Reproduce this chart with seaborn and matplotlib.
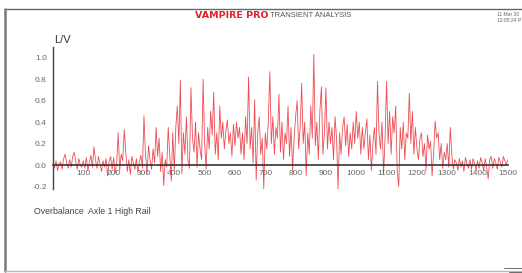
import numpy as np
import pandas as pd
import matplotlib
matplotlib.use("Agg")
import matplotlib.pyplot as plt
from matplotlib.lines import Line2D
import seaborn as sns

# ============================================================================
# DATA (one value every 5 units of distance)
# ============================================================================

step = 5
lv_values = [
    # 0 - 95
    0.02, -0.03, 0.04, -0.05, 0.01, 0.03, -0.04, 0.06, 0.10, 0.02,
    -0.03, 0.05, -0.02, 0.08, 0.12, 0.03, -0.04, 0.06, 0.00, -0.02,
    # 100 - 195
    0.04, -0.03, 0.07, -0.05, 0.02, 0.09, -0.02, 0.17, 0.05, -0.03,
    0.08, 0.01, -0.06, 0.04, -0.02, 0.06, -0.10, 0.03, 0.08, -0.04,
    # 200 - 295
    0.07, -0.08, 0.02, 0.30, -0.05, 0.10, 0.04, 0.33, 0.12, -0.06,
    0.05, -0.09, 0.08, 0.02, -0.04, 0.06, -0.07, 0.03, 0.09, -0.03,
    # 300 - 395
    0.46, 0.10, -0.08, 0.18, 0.05, -0.04, 0.15, 0.02, 0.35, 0.08,
    0.25, -0.06, 0.12, -0.19, 0.05, -0.02, 0.35, 0.10, -0.15, 0.30,
    # 400 - 495
    -0.05, 0.35, 0.55, 0.20, 0.79, -0.08, 0.30, 0.10, 0.45, 0.05,
    -0.03, 0.72, 0.25, 0.12, 0.40, -0.02, 0.30, 0.15, 0.05, 0.80,
    # 500 - 595
    0.20, -0.04, 0.35, 0.15, 0.50, 0.28, 0.68, 0.10, 0.30, 0.05,
    0.55, 0.25, 0.40, 0.15, 0.32, 0.42, 0.20, 0.30, 0.08, 0.38,
    # 600 - 695
    0.18, 0.40, 0.25, 0.35, 0.10, 0.30, 0.05, 0.45, 0.20, 0.82,
    0.15, 0.35, 0.02, 0.61, -0.14, 0.30, 0.45, 0.10, 0.25, -0.22,
    # 700 - 795
    0.30, 0.15, 0.40, 0.87, 0.20, 0.45, 0.10, 0.35, 0.25, 0.66,
    0.12, 0.40, 0.05, 0.30, 0.20, 0.55, 0.08, 0.35, -0.05, 0.25,
    # 800 - 895
    0.45, 0.60, 0.15, 0.35, 0.76, 0.20, 0.40, -0.10, 0.30, 0.10,
    0.55, 0.25, 1.03, 0.18, 0.40, 0.05, 0.50, 0.73, 0.10, 0.30,
    # 900 - 995
    0.72, 0.15, 0.40, 0.20, 0.35, 0.05, 0.45, 0.25, -0.22, 0.30,
    0.10, 0.35, 0.45, 0.18, 0.38, 0.08, 0.30, 0.15, 0.40, 0.20,
    # 1000 - 1095
    0.50, 0.25, 0.40, 0.10, 0.35, 0.15, 0.30, 0.43, 0.05, 0.28,
    -0.05, 0.20, 0.35, 0.10, 0.78, 0.30, 0.15, 0.40, -0.08, 0.25,
    # 1100 - 1195
    0.78, 0.20, 0.50, 0.10, 0.45, 0.30, 0.55, -0.05, -0.20, 0.35,
    0.15, 0.40, 0.05, 0.30, 0.25, 0.67, 0.20, 0.50, 0.10, 0.35,
    # 1200 - 1295
    0.15, 0.05, 0.25, 0.30, 0.08, 0.20, -0.05, 0.28, 0.15, 0.22,
    -0.10, 0.10, 0.41, 0.25, 0.30, 0.05, 0.20, -0.03, 0.12, 0.05,
    # 1300 - 1395
    0.20, -0.02, 0.35, 0.10, -0.04, 0.05, 0.02, -0.05, 0.06, -0.02,
    0.04, -0.06, 0.07, 0.01, -0.03, 0.05, -0.04, 0.06, 0.02, -0.05,
    # 1400 - 1500
    0.04, -0.03, 0.07, 0.02, -0.05, 0.06, -0.02, -0.13, 0.05, 0.08,
    -0.03, 0.06, 0.02, -0.04, 0.07, 0.03, -0.02, 0.08, 0.04, 0.00,
    0.05,
]
distance = [i * step for i in range(len(lv_values))]

x_ticks = [100, 200, 300, 400, 500, 600, 700, 800, 900, 1000, 1100, 1200, 1300, 1400, 1500]
y_ticks = [-0.2, 0.0, 0.2, 0.4, 0.6, 0.8, 1.0]

title_red = "VAMPIRE PRO"
title_grey = "TRANSIENT ANALYSIS"
date_lines = "11 Mar 20\n12:05:24 P"
y_label = "L/V"
caption = "Overbalance  Axle 1 High Rail"

df = pd.DataFrame({"distance": distance, "lv": lv_values})

# ============================================================================
# PLOT
# ============================================================================

sns.set_style("white")
plt.rcParams["font.family"] = ["Liberation Sans", "DejaVu Sans"]

fig = plt.figure(figsize=(5.22, 2.73), dpi=100)
ax = fig.add_axes([0.1015, 0.309, 0.8715, 0.519])

sns.lineplot(x="distance", y="lv", data=df, ax=ax, color="#e8202a",
             linewidth=0.6, alpha=0.8)

ax.set_xlim(0, 1500)
ax.set_ylim(-0.22, 1.1)
ax.set_xticks(x_ticks)
ax.set_yticks(y_ticks)
ax.set_xticklabels([str(t) for t in x_ticks])
ax.set_yticklabels([f"{t:.1f}" for t in y_ticks])
ax.set_xlabel("")
ax.set_ylabel("")

for side in ["top", "right"]:
    ax.spines[side].set_visible(False)
ax.spines["bottom"].set_position(("data", 0))
ax.spines["bottom"].set_color("#333333")
ax.spines["bottom"].set_linewidth(1.2)
ax.spines["left"].set_color("#444444")
ax.spines["left"].set_linewidth(1.0)

ax.tick_params(axis="x", direction="inout", length=3, width=0.8, pad=2,
               labelsize=6, labelcolor="#666666", color="#333333")
ax.tick_params(axis="y", direction="out", length=2.5, width=0.8, pad=2,
               labelsize=6, labelcolor="#666666", color="#444444")
for lbl in ax.get_xticklabels():
    lbl.set_zorder(5)

# page frame
frame_color = "#7a7a7a"
fig.add_artist(Line2D([0.0096, 1.0], [0.967, 0.967], color="#666666", lw=1.0))
fig.add_artist(Line2D([0.0096, 0.0096], [0.967, 0.007], color=frame_color, lw=1.8))
fig.add_artist(Line2D([0.0096, 1.0], [0.007, 0.007], color="#bbbbbb", lw=1.0))
fig.add_artist(Line2D([0.965, 1.0], [0.018, 0.018], color="#555555", lw=0.6))
fig.add_artist(Line2D([0.975, 1.0], [0.004, 0.004], color="#555555", lw=0.6))

# header texts
fig.text(0.514, 0.942, title_red, ha="right", va="center", color="#e0202a",
         fontsize=6.8, fontweight="heavy", family="DejaVu Sans")
fig.text(0.518, 0.942, title_grey, ha="left", va="center", color="#555555",
         fontsize=5.5)
fig.text(0.952, 0.936, date_lines, ha="left", va="center", color="#666666",
         fontsize=3.6, linespacing=1.1)

fig.text(0.103, 0.853, y_label, ha="left", va="center", color="#333333",
         fontsize=8)
fig.text(0.065, 0.227, caption, ha="left", va="center", color="#444444",
         fontsize=6.3)

plt.savefig("out.png", dpi=100)
